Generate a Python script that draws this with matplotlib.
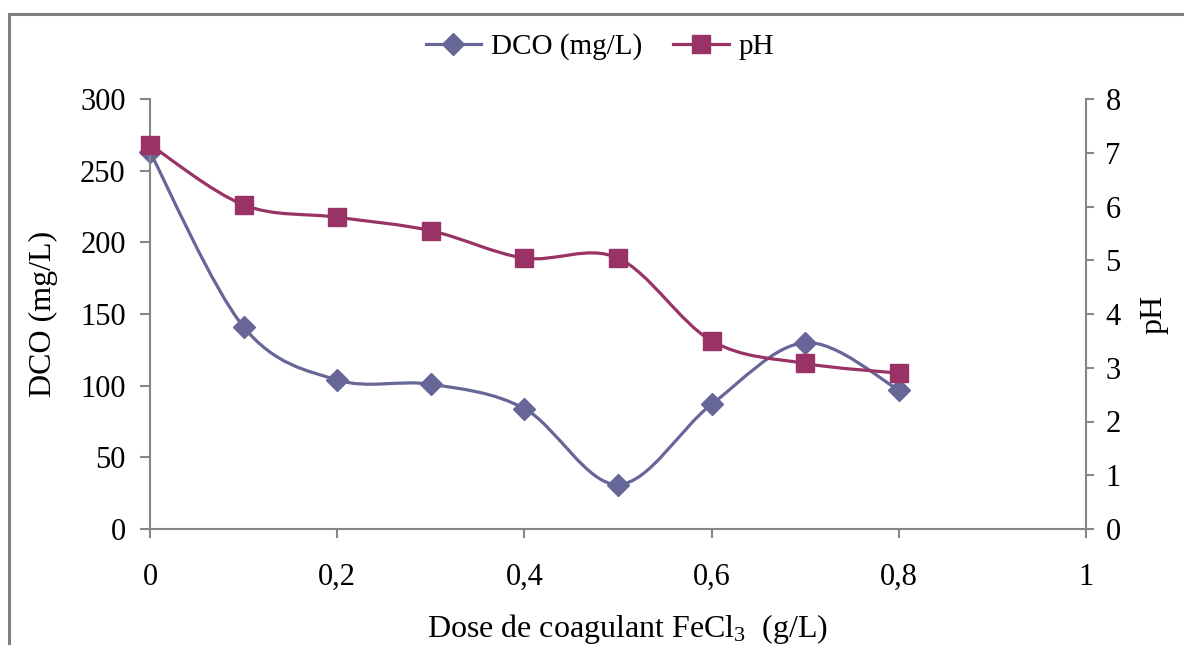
import matplotlib
matplotlib.use('Agg')
import matplotlib.pyplot as plt
from matplotlib.path import Path
from matplotlib.patches import PathPatch
from matplotlib.lines import Line2D
import numpy as np

plt.rcParams['font.family'] = ['Liberation Serif', 'DejaVu Serif']
plt.rcParams['mathtext.fontset'] = 'custom'
plt.rcParams['mathtext.rm'] = 'Liberation Serif'
plt.rcParams['mathtext.it'] = 'Liberation Serif:italic'

# data
dose = [0, 0.1, 0.2, 0.3, 0.4, 0.5, 0.6, 0.7, 0.8]
dco = [263, 141, 104, 101, 84, 31, 87, 130, 97]
ph = [7.15, 6.03, 5.8, 5.55, 5.04, 5.04, 3.5, 3.08, 2.9]

x_ticks = [0, 0.2, 0.4, 0.6, 0.8, 1]
x_tick_labels = ['0', '0,2', '0,4', '0,6', '0,8', '1']
dco_ticks = [0, 50, 100, 150, 200, 250, 300]
ph_ticks = [0, 1, 2, 3, 4, 5, 6, 7, 8]

C_DCO = '#666699'
C_PH = '#993366'
C_AXIS = '#868686'

W, H = 1184, 645


def smooth_path(xs, ys):
    # excel-like smoothed line: catmull-rom segments as cubic beziers
    p = np.column_stack([xs, ys]).astype(float)
    n = len(p)
    verts = [p[0]]
    codes = [Path.MOVETO]
    for i in range(n - 1):
        p0 = p[max(i - 1, 0)]
        p1 = p[i]
        p2 = p[i + 1]
        p3 = p[min(i + 2, n - 1)]
        verts += [p1 + (p2 - p0) / 6, p2 - (p3 - p1) / 6, p2]
        codes += [Path.CURVE4] * 3
    return Path(verts, codes)


fig = plt.figure(figsize=(W / 100, H / 100), dpi=100)
ax = fig.add_axes([150 / W, 116 / H, 936 / W, 430 / H])
ax2 = ax.twinx()

ax.add_patch(PathPatch(smooth_path(dose, dco), fill=False, edgecolor=C_DCO, lw=2.3, clip_on=False))
ax.plot(dose, dco, linestyle='none', marker='D', ms=11, color=C_DCO, clip_on=False)

ax2.add_patch(PathPatch(smooth_path(dose, ph), fill=False, edgecolor=C_PH, lw=2.3, clip_on=False))
ax2.plot(dose, ph, linestyle='none', marker='s', ms=13.5, color=C_PH, clip_on=False)

ax.set_xlim(0, 1)
ax.set_ylim(0, 300)
ax2.set_ylim(0, 8)
ax.set_xticks(x_ticks)
ax.set_xticklabels(x_tick_labels)
ax.set_yticks(dco_ticks)
ax2.set_yticks(ph_ticks)

for a in (ax, ax2):
    a.spines['top'].set_visible(False)
    for s in ('left', 'right', 'bottom'):
        a.spines[s].set_color(C_AXIS)
        a.spines[s].set_linewidth(1.5)
ax.spines['right'].set_visible(False)
ax2.spines['left'].set_visible(False)
ax2.spines['bottom'].set_visible(False)

ax.tick_params(axis='y', direction='out', length=7.5, width=1.5, color=C_AXIS, labelsize=22, pad=10)
ax.tick_params(axis='x', direction='out', length=6.5, width=1.5, color=C_AXIS, labelsize=22, pad=18)
ax2.tick_params(axis='y', direction='out', length=6, width=1.5, color=C_AXIS, labelsize=22, pad=8)

ax.set_xlabel('Dose de coagulant FeCl$_3$  (g/L)', fontsize=23)
ax.set_ylabel('DCO (mg/L)', fontsize=23)
ax2.set_ylabel('pH', fontsize=23)
ax.xaxis.set_label_coords((628 - 150) / 936, (529 - 612) / 430)
ax.yaxis.set_label_coords((58 - 150) / 936, 0.5)
ax2.yaxis.set_label_coords((1139 - 150) / 936, 0.5)

handles = [
    Line2D([], [], color=C_DCO, lw=2.3, marker='D', ms=11),
    Line2D([], [], color=C_PH, lw=2.3, marker='s', ms=13.5),
]
fig.legend(handles, ['DCO (mg/L)', 'pH'], loc='center', bbox_to_anchor=(600 / W, 1 - 47 / H),
           ncol=2, frameon=False, fontsize=21, handlelength=1.9, handletextpad=0.35,
           columnspacing=1.05)

# outer chart border (cut off at right and bottom)
fig.add_artist(Line2D([9 / W, 9 / W], [0, 1 - 14 / H], transform=fig.transFigure, color='#808080', lw=2.2))
fig.add_artist(Line2D([9 / W, 1], [1 - 14 / H, 1 - 14 / H], transform=fig.transFigure, color='#808080', lw=2.2))

fig.savefig('out.png', dpi=100)
